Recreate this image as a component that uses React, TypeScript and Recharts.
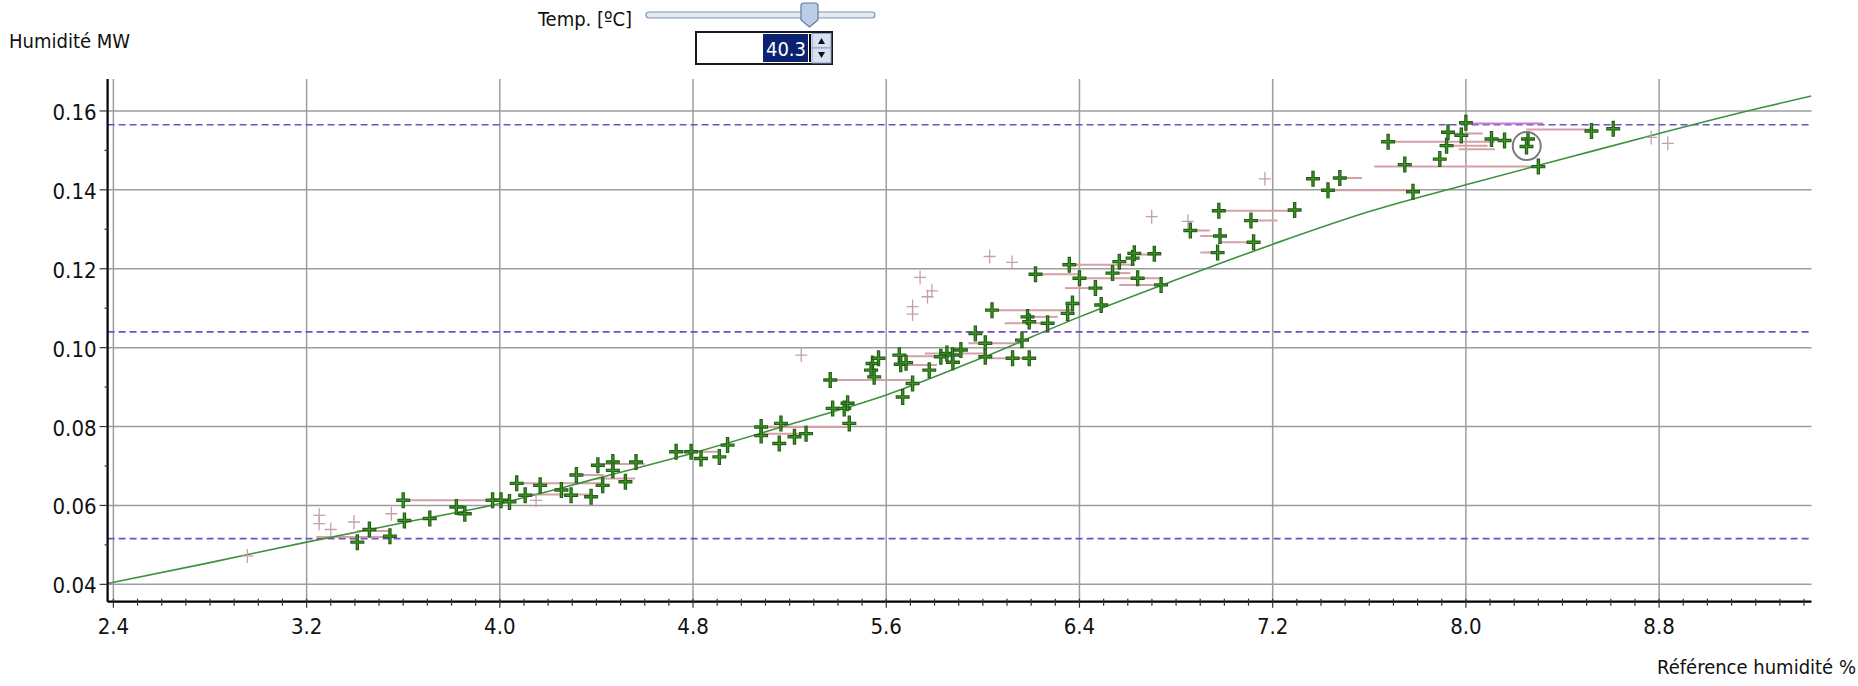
import React from 'react';
import { ComposedChart, XAxis, YAxis, Scatter, Line, ReferenceLine, ReferenceDot } from 'recharts';

const FONT = "'DejaVu Sans Condensed', 'DejaVu Sans', sans-serif";

// ---- axes / ticks ----
const xDomain: [number, number] = [2.376, 9.431];
const yDomain: [number, number] = [0.0356, 0.1681];
const xMajorTicks = [2.4, 3.2, 4.0, 4.8, 5.6, 6.4, 7.2, 8.0, 8.8];
const xAllTicks = [
  2.4, 2.5, 2.6, 2.7, 2.8, 2.9, 3.0, 3.1, 3.2, 3.3, 3.4, 3.5, 3.6, 3.7, 3.8, 3.9,
  4.0, 4.1, 4.2, 4.3, 4.4, 4.5, 4.6, 4.7, 4.8, 4.9, 5.0, 5.1, 5.2, 5.3, 5.4, 5.5,
  5.6, 5.7, 5.8, 5.9, 6.0, 6.1, 6.2, 6.3, 6.4, 6.5, 6.6, 6.7, 6.8, 6.9, 7.0, 7.1,
  7.2, 7.3, 7.4, 7.5, 7.6, 7.7, 7.8, 7.9, 8.0, 8.1, 8.2, 8.3, 8.4, 8.5, 8.6, 8.7,
  8.8, 8.9, 9.0, 9.1, 9.2, 9.3, 9.4,
];
const yMajorTicks = [0.04, 0.06, 0.08, 0.1, 0.12, 0.14, 0.16];
const yAllTicks = [0.04, 0.05, 0.06, 0.07, 0.08, 0.09, 0.1, 0.11, 0.12, 0.13, 0.14, 0.15, 0.16];

// ---- limit lines (dashed) ----
const limitLines = [0.0516, 0.104, 0.1565];

// ---- calibration curve ----
const curveX = [2.376, 2.8, 3.2, 3.6, 4.0, 4.4, 4.8, 5.2, 5.6, 6.0, 6.4, 6.8, 7.2, 7.6, 8.0, 8.4, 8.8, 9.2, 9.431];
const curveY = [0.0402, 0.0455, 0.0507, 0.0556, 0.0605, 0.0668, 0.0733, 0.0805, 0.088, 0.0975, 0.1078, 0.1172, 0.1262, 0.1345, 0.1413, 0.1478, 0.1543, 0.1605, 0.1638];

// ---- measured points (green, active) ----
const greenPoints: [number, number][] = [
  [3.41, 0.0507], [3.46, 0.0539], [3.545, 0.0522], [3.6, 0.0613], [3.605, 0.0562], [3.71, 0.0567],
  [3.82, 0.0596], [3.855, 0.0579], [3.97, 0.0613], [4.005, 0.0613], [4.04, 0.0609], [4.07, 0.0656],
  [4.105, 0.0626], [4.167, 0.0651], [4.255, 0.0639], [4.295, 0.0626], [4.317, 0.0677], [4.378, 0.0622],
  [4.406, 0.0702], [4.426, 0.0651], [4.468, 0.071], [4.468, 0.0689], [4.52, 0.066], [4.564, 0.071],
  [4.73, 0.0736], [4.792, 0.0736], [4.833, 0.0719], [4.909, 0.0723], [4.943, 0.0753], [5.082, 0.0799],
  [5.082, 0.0777], [5.164, 0.0808], [5.157, 0.0757], [5.22, 0.0774], [5.268, 0.0782], [5.378, 0.0846],
  [5.426, 0.0846], [5.44, 0.0859], [5.447, 0.0808], [5.368, 0.0918], [5.543, 0.096], [5.537, 0.0943],
  [5.568, 0.0973], [5.55, 0.0926], [5.668, 0.0875], [5.709, 0.0909], [5.654, 0.0981], [5.66, 0.0958],
  [5.682, 0.0962], [5.778, 0.0943], [5.826, 0.0977], [5.851, 0.0985], [5.874, 0.0981], [5.876, 0.0963],
  [5.909, 0.0994], [5.969, 0.1036], [6.01, 0.1011], [6.01, 0.0977], [6.038, 0.1095], [6.123, 0.0973],
  [6.162, 0.1019], [6.192, 0.0973], [6.185, 0.1078], [6.192, 0.1066], [6.268, 0.1062], [6.218, 0.1186],
  [6.358, 0.121], [6.351, 0.1087], [6.371, 0.1112], [6.4, 0.1176], [6.466, 0.1151], [6.49, 0.1108],
  [6.537, 0.1189], [6.565, 0.1218], [6.62, 0.1227], [6.627, 0.1239], [6.641, 0.1176], [6.71, 0.1238],
  [6.738, 0.1159], [6.859, 0.1297], [6.972, 0.1241], [6.977, 0.1347], [6.982, 0.1283], [7.11, 0.1322],
  [7.121, 0.1267], [7.291, 0.1349], [7.367, 0.1428], [7.429, 0.1399], [7.478, 0.143], [7.781, 0.1395],
  [7.678, 0.1522], [7.747, 0.1464], [7.892, 0.1478], [7.92, 0.1512], [7.926, 0.1546], [7.981, 0.1538],
  [8.0, 0.157], [8.106, 0.1529], [8.16, 0.1525], [8.257, 0.1529], [8.251, 0.151], [8.3, 0.1459],
  [8.52, 0.1549], [8.61, 0.1555],
];

// ---- excluded points (light) ----
const lightPoints: [number, number][] = [
  [2.955, 0.0472], [3.252, 0.0575], [3.252, 0.0554], [3.3, 0.0539], [3.396, 0.0558], [3.551, 0.0579],
  [4.15, 0.0613], [5.248, 0.0981], [5.709, 0.1104], [5.709, 0.1085], [5.74, 0.1178], [5.771, 0.1129],
  [5.789, 0.1144], [6.028, 0.1231], [6.121, 0.1216], [6.699, 0.1332], [6.849, 0.132], [7.168, 0.1428],
  [8.767, 0.1533], [8.836, 0.1518],
];

// ---- horizontal drift segments: [xStart, xEnd, y] ----
const segments: [number, number, number][] = [
  [3.24, 3.545, 0.052], [3.41, 3.55, 0.0535], [3.6, 4.04, 0.0613], [4.07, 4.426, 0.0656],
  [4.105, 4.378, 0.0628], [4.317, 4.43, 0.0677], [4.406, 4.6, 0.0705], [4.4, 4.56, 0.0668],
  [4.73, 4.91, 0.0736], [5.082, 5.447, 0.0799], [5.082, 5.268, 0.0782], [5.368, 5.709, 0.0918],
  [5.654, 5.874, 0.0978], [5.66, 5.81, 0.0956], [6.038, 6.371, 0.1095], [6.185, 6.31, 0.1078],
  [6.09, 6.268, 0.1062], [6.218, 6.4, 0.1186], [6.358, 6.63, 0.121], [6.4, 6.74, 0.1176],
  [6.34, 6.466, 0.1151], [6.565, 6.738, 0.1159], [6.62, 6.71, 0.1236], [6.537, 6.61, 0.1189],
  [6.977, 7.291, 0.1347], [7.11, 7.22, 0.1322], [6.859, 6.94, 0.1297], [6.9, 6.982, 0.1283],
  [6.975, 7.121, 0.1267], [6.9, 6.972, 0.1241], [5.94, 6.162, 0.1011], [5.76, 6.01, 0.0985],
  [6.01, 6.192, 0.0973], [7.678, 8.12, 0.1522], [7.62, 8.3, 0.1459], [7.429, 7.781, 0.1399],
  [7.478, 7.57, 0.143], [8.25, 8.52, 0.1553], [7.92, 8.09, 0.1512], [7.97, 8.12, 0.1503],
  [7.92, 8.07, 0.1543],
];
const highlightSegments: [number, number, number][] = [[8.0, 8.32, 0.1568]];

// ---- selected point ----
const selectedPoint: [number, number] = [8.252, 0.1511];

const curveData = curveX.map((x, i) => ({ x, y: curveY[i] }));
const greenData = greenPoints.map(([x, y]) => ({ x, y }));
const lightData = lightPoints.map(([x, y]) => ({ x, y }));

const isIn = (arr: number[], v: number) => arr.some((m) => Math.abs(m - v) < 1e-6);

const XTick = (props: any) => {
  const { x, y, payload } = props;
  const v = payload.value;
  const major = isIn(xMajorTicks, v);
  return (
    <g>
      <line x1={x} x2={x} y1={y - 3} y2={y + (major ? 6 : 4)} stroke="#333" strokeWidth={1.2} />
      {major && (
        <text x={x} y={y + 32} textAnchor="middle" fontFamily={FONT} fontSize={22} fill="#111">
          {v.toFixed(1)}
        </text>
      )}
    </g>
  );
};

const YTick = (props: any) => {
  const { x, y, payload } = props;
  const v = payload.value;
  const major = isIn(yMajorTicks, v);
  return (
    <g>
      <line x1={x - (major ? 8 : 3)} x2={x} y1={y} y2={y} stroke="#333" strokeWidth={1.2} />
      {major && (
        <text x={x - 11} y={y + 9} textAnchor="end" fontFamily={FONT} fontSize={22} fill="#111">
          {v.toFixed(2)}
        </text>
      )}
    </g>
  );
};

const GreenCross = (props: any) => {
  const { cx, cy } = props;
  if (cx == null || cy == null) return null;
  return (
    <g>
      <path d={`M${cx - 7},${cy}H${cx + 7}M${cx},${cy - 8}V${cy + 8}`} stroke="#235e14" strokeWidth={3.4} fill="none" />
      <path d={`M${cx - 6},${cy}H${cx + 6}M${cx},${cy - 7}V${cy + 7}`} stroke="#3f9628" strokeWidth={1.2} fill="none" />
    </g>
  );
};

const LightCross = (props: any) => {
  const { cx, cy } = props;
  if (cx == null || cy == null) return null;
  return (
    <path d={`M${cx - 6},${cy}H${cx + 6}M${cx},${cy - 7}V${cy + 7}`} stroke="#c2a2a8" strokeWidth={1.3} fill="none" />
  );
};

const Header = () => (
  <svg width={1858} height={72} style={{ position: 'absolute', left: 0, top: 0, pointerEvents: 'none' }}>
    <text x={9} y={48} fontFamily={FONT} fontSize={20} fill="#111">Humidité MW</text>
    <text x={538} y={26} fontFamily={FONT} fontSize={20} fill="#111">Temp. [ºC]</text>
    {/* slider track */}
    <rect x={646} y={12} width={229} height={6} rx={3} fill="#e4eaf3" stroke="#8193b2" strokeWidth={1.2} />
    {/* slider thumb */}
    <path d="M801,6 Q801,3 804,3 H815 Q818,3 818,6 V20 L809.5,27 L801,20 Z" fill="#bccde8" stroke="#6478a0" strokeWidth={1.2} />
    {/* spin box */}
    <rect x={696} y={32} width={136} height={32} fill="#fff" stroke="#1a1a1a" strokeWidth={2} />
    <rect x={763} y={34} width={45} height={28} fill="#0b2270" />
    <text x={806} y={56} textAnchor="end" fontFamily={FONT} fontSize={20} fill="#fff">40.3</text>
    <line x1={810} x2={810} y1={34} y2={62} stroke="#000" strokeWidth={2} />
    <rect x={812} y={33.5} width={19} height={14.5} fill="#d6e0f0" stroke="#8aa2c4" strokeWidth={1} />
    <rect x={812} y={48} width={19} height={15} fill="#d6e0f0" stroke="#8aa2c4" strokeWidth={1} />
    <path d="M818,44 L821.5,38 L825,44 Z" fill="#111" />
    <path d="M818,52 L821.5,58 L825,52 Z" fill="#111" />
  </svg>
);

export default function App() {
  return (
    <div style={{ position: 'absolute', left: 0, top: 0, width: 1858, height: 686, background: '#fff', overflow: 'hidden' }}>
      <ComposedChart
        width={1858}
        height={686}
        margin={{ top: 79, right: 46.5, left: 47.6, bottom: 54.3 }}
      >
        <XAxis
          type="number"
          dataKey="x"
          domain={xDomain}
          allowDataOverflow
          ticks={xAllTicks}
          interval={0}
          tick={<XTick />}
          tickLine={false}
          tickSize={0}
          tickMargin={0}
          height={30}
          axisLine={{ stroke: '#000', strokeWidth: 2.2 }}
        />
        <YAxis
          type="number"
          dataKey="y"
          domain={yDomain}
          allowDataOverflow
          ticks={yAllTicks}
          interval={0}
          tick={<YTick />}
          tickLine={false}
          tickSize={0}
          tickMargin={0}
          width={60}
          axisLine={{ stroke: '#000', strokeWidth: 2.2 }}
        />
        {xMajorTicks.map((v) => (
          <ReferenceLine key={'gx' + v} x={v} stroke="#9d9d9d" strokeWidth={1.5} />
        ))}
        {yMajorTicks.map((v) => (
          <ReferenceLine key={'gy' + v} y={v} stroke="#9d9d9d" strokeWidth={1.5} />
        ))}
        {limitLines.map((v) => (
          <ReferenceLine key={'lim' + v} y={v} stroke="#6f50c6" strokeWidth={1.6} strokeDasharray="7 4" />
        ))}
        {segments.map(([x1, x2, y], i) => (
          <Line
            key={'seg' + i}
            data={[{ x: x1, y }, { x: x2, y }]}
            dataKey="y"
            stroke="#d4a1a7"
            strokeWidth={2}
            dot={false}
            activeDot={false}
            isAnimationActive={false}
            legendType="none"
          />
        ))}
        {highlightSegments.map(([x1, x2, y], i) => (
          <Line
            key={'hseg' + i}
            data={[{ x: x1, y }, { x: x2, y }]}
            dataKey="y"
            stroke="#c47fcf"
            strokeWidth={2}
            dot={false}
            activeDot={false}
            isAnimationActive={false}
            legendType="none"
          />
        ))}
        <Scatter data={lightData} dataKey="y" shape={<LightCross />} isAnimationActive={false} />
        <Line
          data={curveData}
          dataKey="y"
          type="monotone"
          stroke="#3f913f"
          strokeWidth={1.6}
          dot={false}
          activeDot={false}
          isAnimationActive={false}
        />
        <Scatter data={greenData} dataKey="y" shape={<GreenCross />} isAnimationActive={false} />
        <ReferenceDot
          x={selectedPoint[0]}
          y={selectedPoint[1]}
          r={14}
          fill="none"
          stroke="#7b7b7b"
          strokeWidth={2}
        />
      </ComposedChart>
      <Header />
      <div
        style={{
          position: 'absolute',
          right: 2,
          top: 655,
          fontFamily: FONT,
          fontSize: 20,
          color: '#111',
          whiteSpace: 'nowrap',
        }}
      >
        Référence humidité %
      </div>
    </div>
  );
}
